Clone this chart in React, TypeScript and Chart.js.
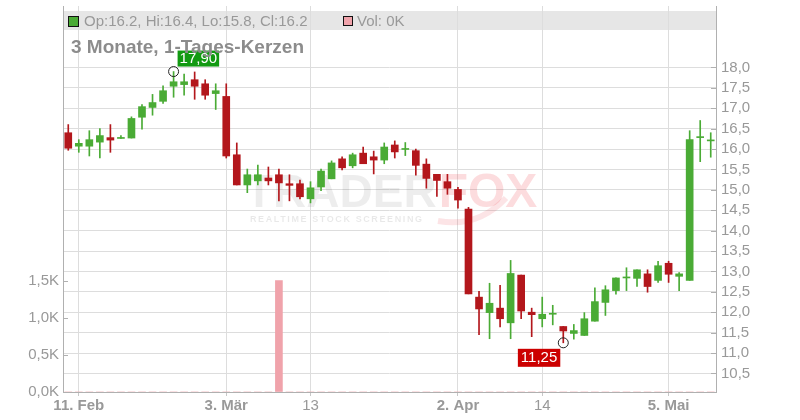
import React, { useEffect, useRef } from 'react';
import { Chart, registerables } from 'chart.js';

Chart.register(...registerables);

const dates = [
  '2025-02-10', '2025-02-11', '2025-02-12', '2025-02-13', '2025-02-14',
  '2025-02-17', '2025-02-18', '2025-02-19', '2025-02-20', '2025-02-21',
  '2025-02-24', '2025-02-25', '2025-02-26', '2025-02-27', '2025-02-28',
  '2025-03-03', '2025-03-04', '2025-03-05', '2025-03-06', '2025-03-07',
  '2025-03-10', '2025-03-11', '2025-03-12', '2025-03-13', '2025-03-14',
  '2025-03-17', '2025-03-18', '2025-03-19', '2025-03-20', '2025-03-21',
  '2025-03-24', '2025-03-25', '2025-03-26', '2025-03-27', '2025-03-28',
  '2025-03-31', '2025-04-01', '2025-04-02', '2025-04-03', '2025-04-04',
  '2025-04-07', '2025-04-08', '2025-04-09', '2025-04-10', '2025-04-11',
  '2025-04-14', '2025-04-15', '2025-04-16', '2025-04-17', '2025-04-22',
  '2025-04-23', '2025-04-24', '2025-04-25', '2025-04-28', '2025-04-29',
  '2025-04-30', '2025-05-02', '2025-05-05', '2025-05-06', '2025-05-07',
  '2025-05-08', '2025-05-09',
];

const opens = [
  16.40, 16.07, 16.07, 16.17, 16.28, 16.26, 16.27, 16.78, 17.02, 17.17,
  17.54, 17.58, 17.70, 17.60, 17.36, 17.29, 15.86, 15.12, 15.22, 15.29,
  15.37, 15.15, 15.15, 14.78, 15.07, 15.27, 15.76, 15.59, 15.90, 15.81,
  15.73, 16.10, 15.99, 15.96, 15.63, 15.38, 15.20, 15.01, 14.53, 12.37,
  11.99, 12.10, 11.74, 12.91, 12.00, 11.84, 11.95, 11.65, 11.48, 11.43,
  11.78, 12.24, 12.53, 12.84, 12.83, 12.94, 12.78, 13.20, 12.88, 12.78,
  16.28, 16.20,
];

const highs = [
  16.60, 16.23, 16.45, 16.50, 16.60, 16.33, 16.79, 17.09, 17.34, 17.55,
  17.90, 17.84, 17.89, 17.70, 17.60, 17.60, 16.15, 15.51, 15.61, 15.56,
  15.51, 15.37, 15.24, 15.20, 15.51, 15.71, 15.81, 15.90, 16.05, 15.95,
  16.15, 16.20, 16.16, 16.00, 15.76, 15.38, 15.38, 15.06, 14.57, 12.51,
  12.71, 12.66, 13.27, 12.91, 12.10, 12.37, 12.17, 11.65, 11.70, 11.99,
  12.60, 12.65, 12.84, 13.09, 13.04, 13.04, 13.25, 13.25, 12.97, 16.45,
  16.70, 16.40,
];

const lows = [
  15.97, 15.92, 15.83, 15.78, 15.92, 16.26, 16.27, 16.49, 16.83, 17.12,
  17.27, 17.32, 17.22, 17.22, 16.97, 15.78, 15.12, 14.93, 15.12, 15.12,
  14.73, 14.73, 14.78, 14.68, 14.98, 15.27, 15.49, 15.54, 15.64, 15.39,
  15.64, 15.78, 15.84, 15.36, 15.04, 14.84, 14.89, 14.55, 12.45, 11.45,
  11.35, 11.64, 11.35, 11.84, 11.40, 11.64, 11.69, 11.25, 11.34, 11.43,
  11.78, 11.92, 12.44, 12.53, 12.63, 12.49, 12.73, 12.73, 12.53, 12.78,
  15.69, 15.80,
];

const closes = [
  16.02, 16.14, 16.23, 16.33, 16.22, 16.28, 16.75, 17.04, 17.14, 17.43,
  17.65, 17.65, 17.54, 17.32, 17.43, 15.83, 15.12, 15.37, 15.37, 15.22,
  15.17, 15.11, 14.83, 15.05, 15.46, 15.66, 15.54, 15.86, 15.64, 15.73,
  16.05, 15.93, 16.00, 15.60, 15.28, 15.23, 15.04, 14.75, 12.45, 12.08,
  12.22, 11.84, 12.95, 12.03, 11.94, 11.95, 11.95, 11.54, 11.55, 11.84,
  12.26, 12.55, 12.84, 12.84, 13.04, 12.63, 13.14, 12.93, 12.94, 16.23,
  16.28, 16.20,
];

const volumes = [
  0, 0, 0, 0, 0, 0, 0, 0, 0, 0,
  0, 0, 0, 0, 0, 0, 0, 0, 0, 0,
  1500, 0, 0, 0, 0, 0, 0, 0, 0, 0,
  0, 0, 0, 0, 0, 0, 0, 0, 0, 0,
  0, 0, 0, 0, 0, 0, 0, 0, 0, 0,
  0, 0, 0, 0, 0, 0, 0, 0, 0, 0,
  0, 0,
];

const tickDates = ['2025-02-11', '2025-03-03', '2025-03-13', '2025-04-02', '2025-04-14', '2025-05-05'];
const tickTexts = ['11. Feb', '3. Mär', '13', '2. Apr', '14', '5. Mai'];
const tickBold = [true, true, false, true, false, true];

const priceTicks = [10.5, 11, 11.5, 12, 12.5, 13, 13.5, 14, 14.5, 15, 15.5, 16, 16.5, 17, 17.5, 18];
const volumeTicks = [0, 500, 1000, 1500];

const titleText = '3 Monate, 1-Tages-Kerzen';
const legendText = 'Op:16.2, Hi:16.4, Lo:15.8, Cl:16.2';
const volLegendText = 'Vol: 0K';

const FONT = "'Liberation Sans', Arial, Helvetica, sans-serif";
const GREEN = '#4aab35';
const RED = '#b3171c';
const GRID = '#dddddd';
const AXIS = '#b0b0b0';
const TEXT = '#999999';

export default function App() {
  const ref = useRef<HTMLCanvasElement>(null);

  useEffect(() => {
    if (!ref.current) return;
    const colors = opens.map((o, i) => (closes[i] >= o ? GREEN : RED));
    const hiIdx = highs.indexOf(Math.max(...highs));
    const loIdx = lows.indexOf(Math.min(...lows));
    const markers = dates.map((_, i) => (i === hiIdx ? highs[i] : i === loIdx ? lows[i] : null));
    const tickIndex = (i: number) => tickDates.indexOf(dates[i]);
    const fmt = (v: number) => v.toFixed(2).replace('.', ',');
    const noPad = (s: any) => {
      s.paddingTop = 0;
      s.paddingBottom = 0;
      s.paddingLeft = 0;
      s.paddingRight = 0;
    };

    const overlay = {
      id: 'overlay',
      beforeDraw(chart: any) {
        const { ctx, chartArea } = chart;
        ctx.save();
        ctx.fillStyle = '#e6e6e6';
        ctx.fillRect(chartArea.left, 11, chartArea.right - chartArea.left, 19);
        ctx.restore();
      },
      beforeDatasetsDraw(chart: any) {
        const { ctx } = chart;
        ctx.save();
        ctx.textBaseline = 'alphabetic';
        ctx.textAlign = 'left';
        ctx.font = `bold 46px ${FONT}`;
        ctx.fillStyle = 'rgba(0,0,0,0.07)';
        ctx.fillText('TRADER', 245, 207);
        const w = ctx.measureText('TRADER').width;
        ctx.font = `bold 48px ${FONT}`;
        ctx.fillStyle = 'rgba(235,50,60,0.17)';
        ctx.fillText('FOX', 245 + w + 2, 207);
        ctx.strokeStyle = 'rgba(235,50,60,0.13)';
        ctx.lineWidth = 6;
        ctx.beginPath();
        ctx.moveTo(438, 221);
        ctx.quadraticCurveTo(478, 228, 506, 198);
        ctx.stroke();
        ctx.font = `bold 9px ${FONT}`;
        ctx.fillStyle = 'rgba(0,0,0,0.09)';
        (ctx as any).letterSpacing = '1.6px';
        ctx.fillText('REALTIME STOCK SCREENING', 250, 222);
        ctx.restore();
      },
      afterDatasetsDraw(chart: any) {
        const { ctx, scales } = chart;
        const x = scales.x;
        const y = scales.y;
        const yv = scales.yVol;
        ctx.save();
        ctx.strokeStyle = AXIS;
        ctx.lineWidth = 1;
        y.ticks.forEach((t: any) => {
          const py = Math.round(y.getPixelForValue(t.value)) + 0.5;
          ctx.beginPath();
          ctx.moveTo(y.left - 5, py);
          ctx.lineTo(y.left, py);
          ctx.stroke();
        });
        yv.ticks.forEach((t: any) => {
          const py = Math.round(yv.getPixelForValue(t.value)) + 0.5;
          ctx.beginPath();
          ctx.moveTo(yv.right, py);
          ctx.lineTo(yv.right + 5, py);
          ctx.stroke();
        });
        ctx.font = `15px ${FONT}`;
        ctx.textBaseline = 'middle';
        ctx.textAlign = 'center';
        const hx = x.getPixelForValue(hiIdx);
        const hy = y.getPixelForValue(highs[hiIdx]);
        const ht = fmt(highs[hiIdx]);
        const hw = ctx.measureText(ht).width + 4;
        ctx.fillStyle = '#129a12';
        ctx.fillRect(hx + 4, hy - 21, hw, 16);
        ctx.fillStyle = '#ffffff';
        ctx.fillText(ht, hx + 4 + hw / 2, hy - 12.5);
        const lx = x.getPixelForValue(loIdx);
        const ly = y.getPixelForValue(lows[loIdx]);
        const lt = fmt(lows[loIdx]);
        const lw = ctx.measureText(lt).width + 6;
        ctx.fillStyle = '#cc0000';
        ctx.fillRect(lx - 3 - lw, ly + 6, lw, 18);
        ctx.fillStyle = '#ffffff';
        ctx.fillText(lt, lx - 3 - lw / 2, ly + 15.5);
        ctx.textAlign = 'left';
        ctx.fillStyle = GREEN;
        ctx.fillRect(68.5, 16.5, 10, 10);
        ctx.strokeStyle = '#111';
        ctx.strokeRect(68.5, 16.5, 10, 10);
        ctx.fillStyle = TEXT;
        ctx.fillText(legendText, 84, 21.5);
        ctx.fillStyle = '#f0a3ab';
        ctx.fillRect(343.5, 16.5, 9, 9);
        ctx.strokeRect(343.5, 16.5, 9, 9);
        ctx.fillStyle = TEXT;
        ctx.fillText(volLegendText, 357, 21.5);
        ctx.font = `bold 19px ${FONT}`;
        ctx.fillStyle = '#8c8c8c';
        ctx.fillText(titleText, 71, 47.5);
        ctx.restore();
      },
    };

    const chart = new Chart(ref.current, {
      type: 'bar',
      data: {
        labels: dates,
        datasets: [
          {
            type: 'line',
            data: markers as any,
            showLine: false,
            pointRadius: 5,
            pointHoverRadius: 5,
            pointBorderColor: '#222',
            pointBackgroundColor: 'rgba(0,0,0,0)',
            pointBorderWidth: 1,
            yAxisID: 'y',
          } as any,
          {
            data: dates.map((_, i) => [opens[i], closes[i]]) as any,
            backgroundColor: colors,
            barThickness: 7,
            minBarLength: 1,
            grouped: false,
            yAxisID: 'y',
          } as any,
          {
            data: dates.map((_, i) => [lows[i], highs[i]]) as any,
            backgroundColor: colors,
            barThickness: 1,
            grouped: false,
            yAxisID: 'y',
          } as any,
          {
            data: volumes,
            backgroundColor: '#f0a3ab',
            barThickness: 7,
            grouped: false,
            yAxisID: 'yVol',
          } as any,
        ],
      },
      plugins: [overlay],
      options: {
        animation: false,
        responsive: false,
        maintainAspectRatio: false,
        layout: { padding: { top: 4, left: 0, right: 0, bottom: 0 } },
        plugins: { legend: { display: false }, tooltip: { enabled: false } },
        scales: {
          x: {
            offset: true,
            grid: {
              offset: false,
              color: (c: any) => (tickIndex(c.index) >= 0 ? GRID : 'rgba(0,0,0,0)'),
              tickColor: (c: any) => (tickIndex(c.index) >= 0 ? '#c8c8c8' : 'rgba(0,0,0,0)'),
              tickLength: 4,
              drawTicks: true,
            },
            border: { display: true, color: AXIS },
            ticks: {
              autoSkip: false,
              maxRotation: 0,
              minRotation: 0,
              padding: 1,
              color: TEXT,
              font: (c: any) => {
                const k = tickIndex(c.index);
                return { family: FONT, size: 15, weight: k >= 0 && tickBold[k] ? 'bold' : 'normal' };
              },
              callback: (_v: any, i: number) => {
                const k = tickIndex(i);
                return k >= 0 ? tickTexts[k] : '';
              },
            },
            afterFit: (s: any) => { s.height = 28; noPad(s); },
          },
          y: {
            position: 'right',
            min: 10.044,
            max: 19.507,
            grid: { color: GRID, drawTicks: false },
            border: { display: true, color: AXIS },
            afterBuildTicks: (s: any) => { s.ticks = priceTicks.map((v) => ({ value: v })); },
            ticks: {
              padding: 5,
              color: TEXT,
              font: { family: FONT, size: 15 },
              callback: (v: any) => Number(v).toFixed(1).replace('.', ','),
            },
            afterFit: (s: any) => { s.width = 84; noPad(s); },
          },
          yVol: {
            position: 'left',
            min: 0,
            max: 5196,
            grid: { drawOnChartArea: false, drawTicks: false },
            border: { display: true, color: AXIS },
            afterBuildTicks: (s: any) => { s.ticks = volumeTicks.map((v) => ({ value: v })); },
            ticks: {
              padding: 4,
              color: TEXT,
              font: { family: FONT, size: 15 },
              callback: (v: any) => (Number(v) / 1000).toFixed(1).replace('.', ',') + 'K',
            },
            afterFit: (s: any) => { s.width = 63; noPad(s); },
          },
        },
      } as any,
    });
    return () => chart.destroy();
  }, []);

  return (
    <div style={{ position: 'absolute', left: 0, top: 0, width: 800, height: 420, background: '#fff' }}>
      <canvas ref={ref} width={800} height={420} />
    </div>
  );
}
